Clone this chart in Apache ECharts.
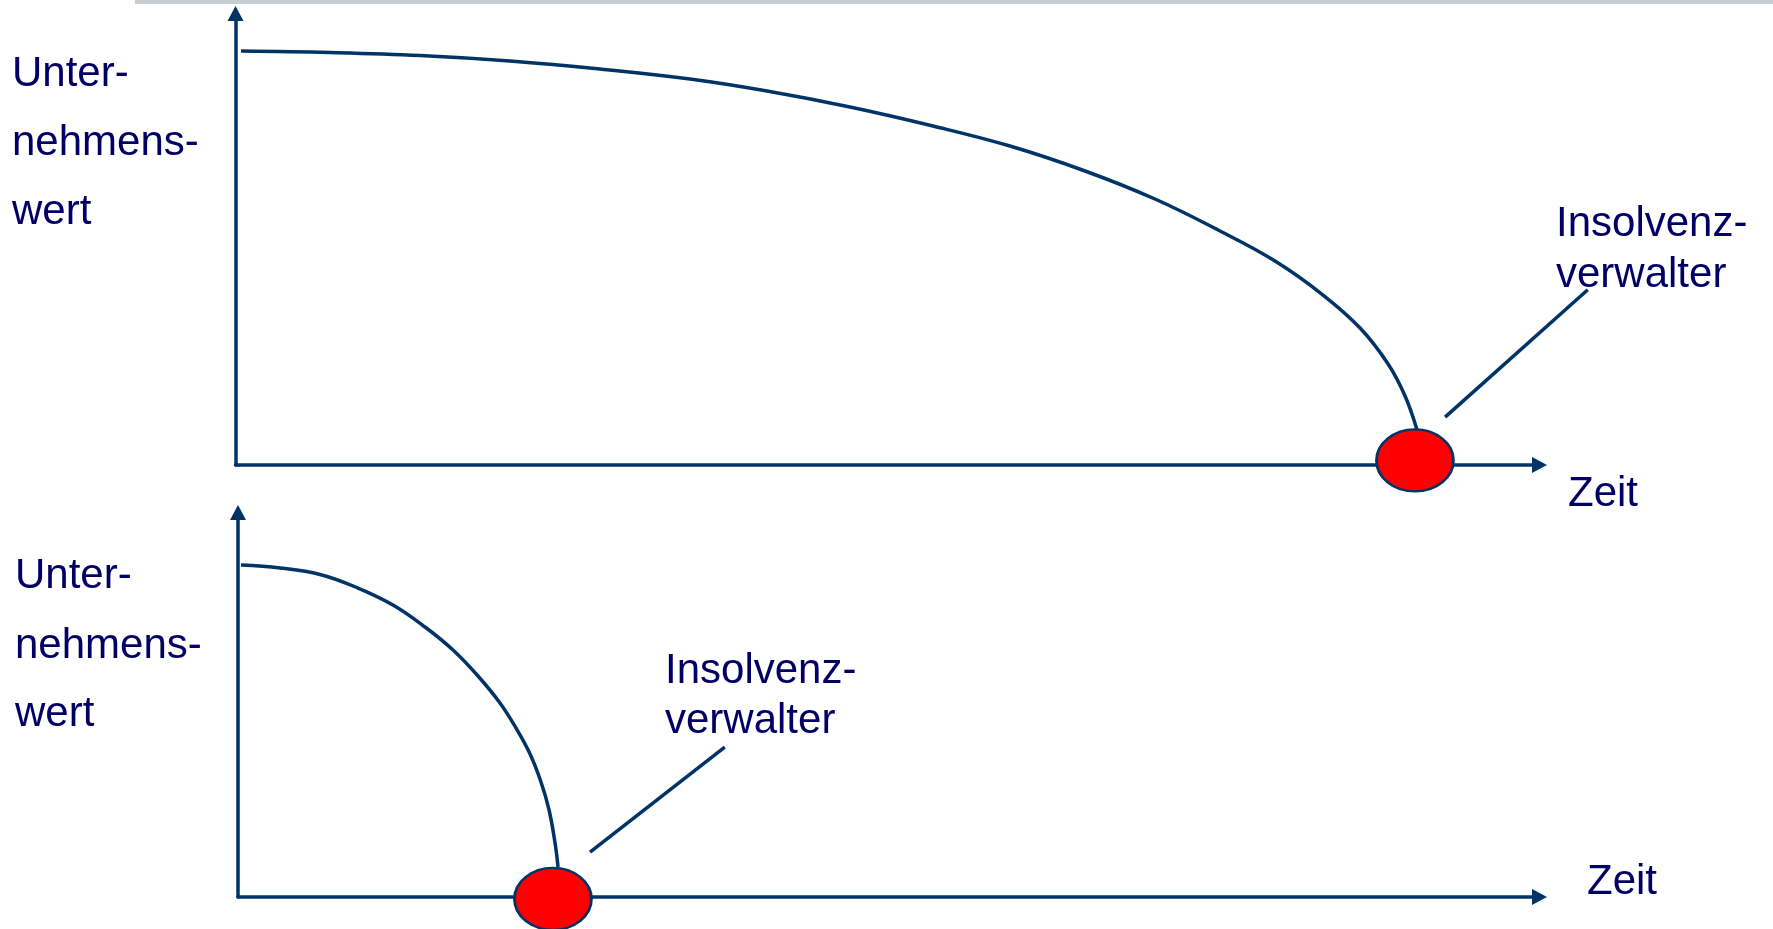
<!DOCTYPE html>
<html>
<head>
<meta charset="utf-8">
<script src="https://cdn.jsdelivr.net/npm/echarts@6/dist/echarts.min.js"></script>
<style>
html,body{margin:0;padding:0;background:#fff;}
#c{width:1773px;height:929px;}
</style>
</head>
<body>
<div id="c"></div>
<script>
// ---- data (axis units 0..100) ----
const topCurve = [
  [0.42, 91.69], [7.25, 91.36], [14.16, 90.70], [21.05, 89.48], [27.95, 87.71], [34.85, 85.49],
  [40.76, 82.83], [47.12, 79.29], [53.49, 75.08], [59.39, 70.65], [65.15, 65.12], [70.51, 58.91],
  [75.50, 51.83], [79.72, 45.18], [83.40, 37.65], [86.24, 30.34], [88.39, 22.37], [89.69, 15.28], [90.61, 7.75]
];
const topMarker = [[90.45, 1.0]];
const topLeader = [[92.76, 10.6], [103.7, 38.8]];

const bottomCurve = [
  [0.23, 86.35], [3.23, 85.57], [6.30, 83.88], [9.22, 80.36], [11.91, 75.94], [14.37, 70.22],
  [16.52, 64.24], [18.44, 57.48], [20.13, 50.46], [21.36, 43.95], [22.44, 37.19], [23.28, 29.91],
  [23.90, 22.63], [24.36, 14.04], [24.59, 7.80]
];
const bottomMarker = [[24.2, -0.5]];
const bottomLeader = [[27.05, 11.7], [37.4, 39.0]];

const yTitleLines = ['Unter-', 'nehmens-', 'wert'];
const noteLines = ['Insolvenz-', 'verwalter'];
const xTitle = 'Zeit';

// ---- styles ----
const LINE = '#003366';
const TEXT = '#000066';
const FONT = '"Liberation Sans", Arial, sans-serif';

function axis(extra) {
  return Object.assign({
    type: 'value', min: 0, max: 100,
    axisLine: { show: true, onZero: false, symbol: ['none', 'triangle'], symbolSize: [16, 15],
      lineStyle: { color: LINE, width: 3.5 } },
    axisTick: { show: false }, axisLabel: { show: false }, splitLine: { show: false }
  }, extra);
}
function hiddenAxis(extra) {
  return Object.assign({ type: 'value', min: 0, max: 100, show: false }, extra);
}

function txt(s, x, y) {
  return { type: 'text', x: x, y: y, style: { text: s, fill: TEXT, font: '42px ' + FONT, verticalAlign: 'middle', align: 'left' } };
}

const graphics = [
  { type: 'rect', shape: { x: 135, y: 0, width: 1638, height: 4 }, style: { fill: '#c8cdd0' } }
];
[74.5, 143.5, 212.5].forEach((y, i) => graphics.push(txt(yTitleLines[i], 12, y)));
[576.5, 646.5, 714.5].forEach((y, i) => graphics.push(txt(yTitleLines[i], 15, y)));
[224.5, 275.5].forEach((y, i) => graphics.push(txt(noteLines[i], 1556, y)));
[671.5, 721.5].forEach((y, i) => graphics.push(txt(noteLines[i], 665, y)));
graphics.push(txt(xTitle, 1568, 494.5));
graphics.push(txt(xTitle, 1587, 882.5));

const chart = echarts.init(document.getElementById('c'), null, { renderer: 'canvas' });
chart.setOption({
  animation: false,
  backgroundColor: '#ffffff',
  grid: [
    { left: 235.5, top: 13.5, width: 1304, height: 451.5 },
    { left: 238, top: 512.5, width: 1301.5, height: 384.5 },
    // annotation layer sharing the top chart's scale, extended to the right
    { left: 235.5, top: 13.5, width: 1304 * 1.15, height: 451.5 }
  ],
  xAxis: [axis({ gridIndex: 0 }), axis({ gridIndex: 1 }), hiddenAxis({ gridIndex: 2, max: 115 })],
  yAxis: [axis({ gridIndex: 0 }), axis({ gridIndex: 1 }), hiddenAxis({ gridIndex: 2 })],
  graphic: graphics,
  series: [
    { type: 'line', xAxisIndex: 0, yAxisIndex: 0, data: topCurve, smooth: 0.4, symbol: 'none',
      lineStyle: { color: LINE, width: 3.5 }, z: 3 },
    { type: 'line', xAxisIndex: 2, yAxisIndex: 2, data: topLeader, symbol: 'none', clip: false,
      lineStyle: { color: LINE, width: 3.5 }, z: 3 },
    { type: 'scatter', xAxisIndex: 0, yAxisIndex: 0, data: topMarker, symbol: 'circle', symbolSize: [77, 62], clip: false,
      itemStyle: { color: '#ff0000', borderColor: LINE, borderWidth: 2.5, opacity: 1 }, z: 5 },
    { type: 'line', xAxisIndex: 1, yAxisIndex: 1, data: bottomCurve, smooth: 0.4, symbol: 'none',
      lineStyle: { color: LINE, width: 3.5 }, z: 3 },
    { type: 'line', xAxisIndex: 1, yAxisIndex: 1, data: bottomLeader, symbol: 'none', clip: false,
      lineStyle: { color: LINE, width: 3.5 }, z: 3 },
    { type: 'scatter', xAxisIndex: 1, yAxisIndex: 1, data: bottomMarker, symbol: 'circle', symbolSize: [77, 62], clip: false,
      itemStyle: { color: '#ff0000', borderColor: LINE, borderWidth: 2.5, opacity: 1 }, z: 5 }
  ]
});
</script>
</body>
</html>
